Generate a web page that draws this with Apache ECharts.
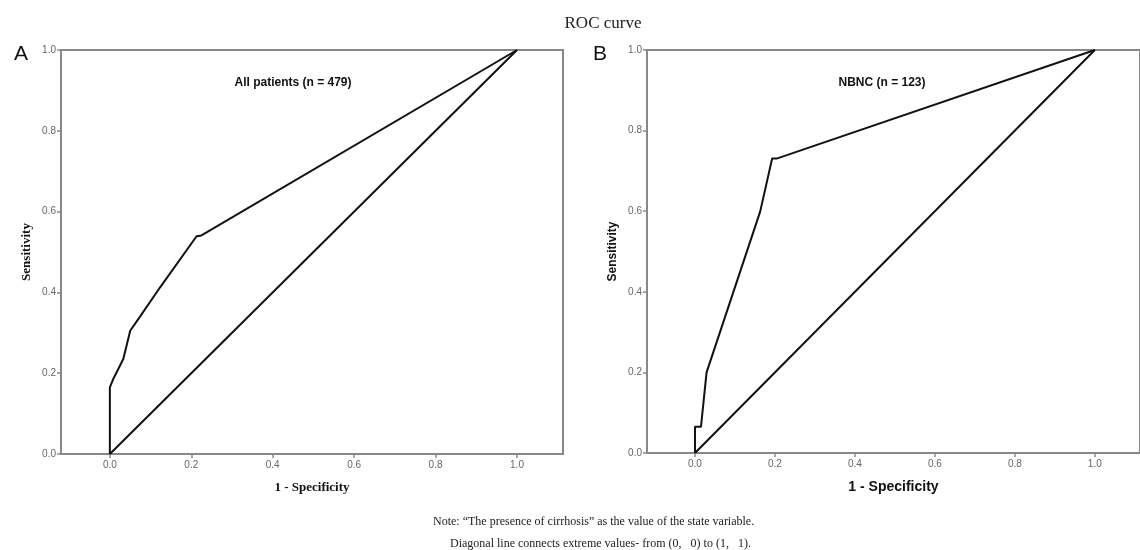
<!DOCTYPE html>
<html>
<head>
<meta charset="utf-8">
<script src="https://cdn.jsdelivr.net/npm/echarts@6/dist/echarts.min.js"></script>
<style>
  html, body { margin: 0; padding: 0; background: #fff; }
  #chart { width: 1140px; height: 550px; }
</style>
</head>
<body>
<div id="chart"></div>
<script>
// ROC points (1 - specificity, sensitivity)
var allFpr = [0, 0, 0.008, 0.033, 0.05, 0.074, 0.123, 0.213, 0.225, 1];
var allTpr = [0, 0.165, 0.185, 0.235, 0.305, 0.34, 0.412, 0.539, 0.541, 1];
var nbncFpr = [0, 0, 0.015, 0.029, 0.163, 0.193, 0.206, 1];
var nbncTpr = [0, 0.065, 0.065, 0.2, 0.599, 0.731, 0.731, 1];
var diagFpr = [0, 1];
var diagTpr = [0, 1];
var tickValues = [0, 0.2, 0.4, 0.6, 0.8, 1.0];

var myChart = echarts.init(document.getElementById('chart'));

function pairs(xs, ys) {
	return xs.map(function(x, i) { return [x, ys[i]]; });
}

// build one axis pair, serif = left panel style
function makeX(idx, serif) {
	return {
		type: 'value', gridIndex: idx, min: -0.12, max: 1.113,
		name: '1 - Specificity', nameLocation: 'middle', nameGap: 27,
		nameTextStyle: {
			fontFamily: serif ? 'Liberation Serif' : 'Liberation Sans',
			fontWeight: 'bold', fontSize: serif ? 13 : 14, color: '#111'
		},
		axisLine: { show: true, onZero: false, lineStyle: { color: '#888', width: 2 } },
		axisTick: { show: true, customValues: tickValues, length: 4, lineStyle: { color: '#888', width: 1.5 } },
		axisLabel: {
			customValues: tickValues, margin: 6, fontSize: 10, color: '#666',
			fontFamily: 'Liberation Sans',
			formatter: function(v) { return v.toFixed(1); }
		},
		splitLine: { show: false }
	};
}

function makeY(idx, serif) {
	return {
		type: 'value', gridIndex: idx, min: 0, max: 1, interval: 0.2,
		name: 'Sensitivity', nameLocation: 'middle', nameGap: 28,
		nameTextStyle: {
			fontFamily: serif ? 'Liberation Serif' : 'Liberation Sans',
			fontWeight: 'bold', fontSize: serif ? 13 : 12, color: '#111'
		},
		axisLine: { show: true, onZero: false, lineStyle: { color: '#888', width: 2 } },
		axisTick: { show: true, length: 4, lineStyle: { color: '#888', width: 1.5 } },
		axisLabel: {
			margin: 5, fontSize: 10, color: '#666', fontFamily: 'Liberation Sans',
			formatter: function(v) { return v.toFixed(1); }
		},
		splitLine: { show: false }
	};
}

function makeLine(idx, data) {
	return {
		type: 'line', xAxisIndex: idx, yAxisIndex: idx, data: data,
		showSymbol: false, symbol: 'none', silent: true, animation: false,
		lineStyle: { color: '#111', width: 2 }
	};
}

var serifText = { fontFamily: 'Liberation Serif', fontWeight: 'normal', color: '#222' };

var option = {
	backgroundColor: '#fff',
	animation: false,
	title: [
		{ text: 'ROC curve', left: 598, top: 10, textAlign: 'center',
		  textStyle: Object.assign({ fontSize: 17 }, serifText) },
		{ text: 'A', left: 9, top: 39,
		  textStyle: { fontFamily: 'Liberation Sans', fontSize: 21, fontWeight: 'normal', color: '#111' } },
		{ text: 'B', left: 588, top: 39,
		  textStyle: { fontFamily: 'Liberation Sans', fontSize: 21, fontWeight: 'normal', color: '#111' } },
		{ text: 'All patients (n = 479)', left: 288, top: 72, textAlign: 'center',
		  textStyle: { fontFamily: 'Liberation Sans', fontSize: 12, fontWeight: 'bold', color: '#111' } },
		{ text: 'NBNC (n = 123)', left: 877, top: 72, textAlign: 'center',
		  textStyle: { fontFamily: 'Liberation Sans', fontSize: 12, fontWeight: 'bold', color: '#111' } },
		{ text: 'Note: \u201cThe presence of cirrhosis\u201d as the value of the state variable.',
		  left: 428, top: 511, textStyle: Object.assign({ fontSize: 12 }, serifText) },
		{ text: 'Diagonal line connects extreme values- from (0,\u2002 0) to (1,\u2002 1).',
		  left: 445, top: 533, textStyle: Object.assign({ fontSize: 12 }, serifText) }
	],
	grid: [
		{ left: 61, top: 50, width: 502, height: 404, show: true, borderColor: '#888', borderWidth: 2 },
		{ left: 647, top: 50, width: 498, height: 403, show: true, borderColor: '#888', borderWidth: 2 }
	],
	xAxis: [makeX(0, true), makeX(1, false)],
	yAxis: [makeY(0, true), makeY(1, false)],
	series: [
		makeLine(0, pairs(allFpr, allTpr)),
		makeLine(0, pairs(diagFpr, diagTpr)),
		makeLine(1, pairs(nbncFpr, nbncTpr)),
		makeLine(1, pairs(diagFpr, diagTpr))
	]
};
myChart.setOption(option);
</script>
</body>
</html>
